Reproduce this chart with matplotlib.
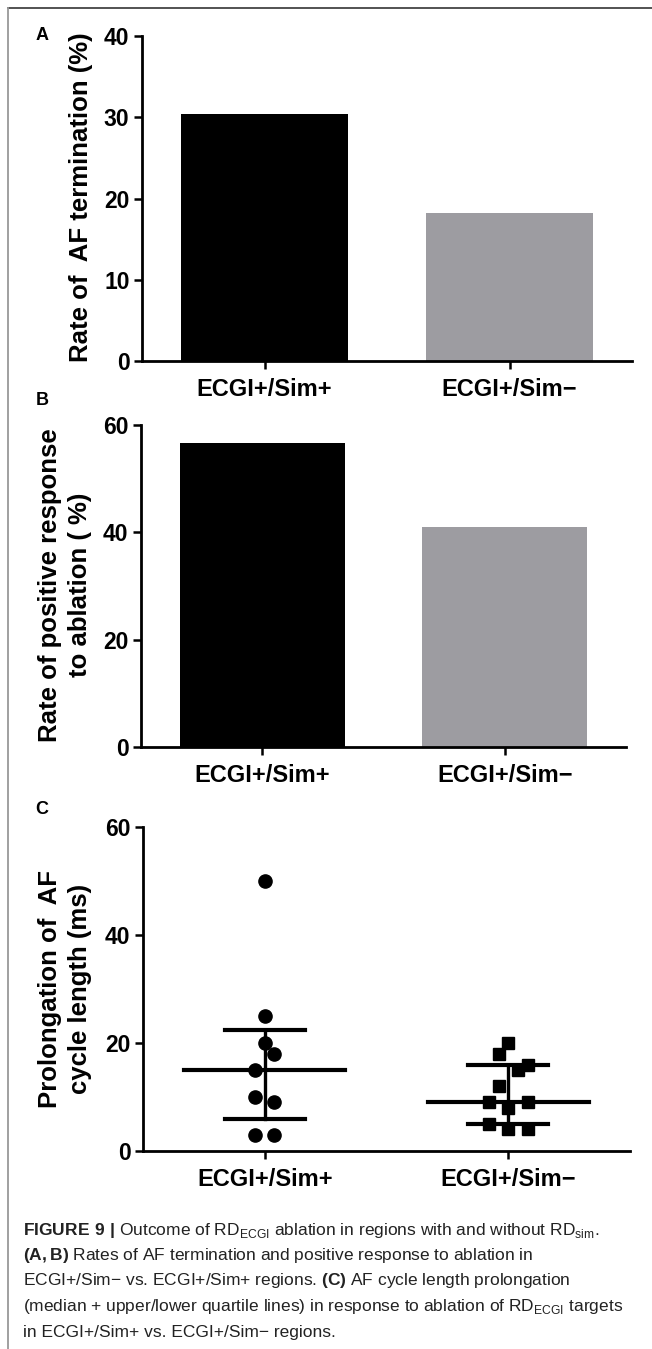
import numpy as np
import matplotlib
matplotlib.use('Agg')
import matplotlib.pyplot as plt
from matplotlib.lines import Line2D

plt.rcParams['font.family'] = ['Liberation Sans', 'DejaVu Sans']
plt.rcParams['mathtext.fontset'] = 'custom'
plt.rcParams['mathtext.rm'] = 'Liberation Sans'
plt.rcParams['mathtext.bf'] = 'Liberation Sans:bold'

# data
groups = ['ECGI+/Sim+', 'ECGI+/Sim\u2212']
af_termination = [30.4, 18.2]          # panel A, %
positive_response = [56.6, 41.0]       # panel B, %
prolong_sim_pos = [50, 25, 20, 18, 15, 10, 9, 3, 3]          # panel C, ms
prolong_sim_neg = [20, 18, 16, 15, 12, 9, 9, 8, 5, 4, 4]     # panel C, ms
# horizontal jitter slots of the scatter columns
slots_pos = [0, 0, 0, 1, -1, -1, 1, -1, 1]
slots_neg = [0, -1, 2, 1, -1, -2, 2, 0, -2, 0, 2]

bar_colors = ['black', '#9d9ca1']
W, H = 652, 1349

fig = plt.figure(figsize=(W / 100, H / 100), dpi=100)


def px_axes(x0, y0, x1, y1):
    return fig.add_axes([x0 / W, 1 - y1 / H, (x1 - x0) / W, (y1 - y0) / H])


def style_axes(ax, ymax, yticks):
    for s in ['top', 'right']:
        ax.spines[s].set_visible(False)
    for s in ['left', 'bottom']:
        ax.spines[s].set_linewidth(2.0)
    ax.set_xlim(-0.5, 1.5)
    ax.set_ylim(0, ymax)
    ax.set_yticks(yticks)
    ax.set_xticks(range(len(groups)))
    ax.set_xticklabels(groups)
    ax.tick_params(axis='both', direction='out', length=6, width=1.8,
                   labelsize=16.5, pad=3)
    ax.tick_params(axis='x', labelsize=17, pad=6)
    for lab in ax.get_xticklabels() + ax.get_yticklabels():
        lab.set_fontweight('bold')


# Panel A
axA = px_axes(142, 36, 632, 361)
axA.bar(range(len(groups)), af_termination, width=0.68, color=bar_colors)
style_axes(axA, 40, [0, 10, 20, 30, 40])
fig.text(81 / W, 1 - 197 / H, 'Rate of  AF termination (%)', rotation=90,
         ha='center', va='center', fontsize=18.5, fontweight='bold')

# Panel B
axB = px_axes(141, 425, 626, 747)
axB.bar(range(len(groups)), positive_response, width=0.68, color=bar_colors)
style_axes(axB, 60, [0, 20, 40, 60])
fig.text(65 / W, 1 - 585 / H, 'Rate of positive response\nto ablation ( %)',
         rotation=90, ha='center', va='center', fontsize=18.5,
         fontweight='bold', linespacing=1.27, multialignment='center')

# Panel C
axC = px_axes(143, 827, 630, 1151)
step = 0.04
for i, (vals, slots, mk) in enumerate([(prolong_sim_pos, slots_pos, 'o'),
                                        (prolong_sim_neg, slots_neg, 's')]):
    xs = i + np.array(slots) * step
    axC.plot(xs, vals, linestyle='none', marker=mk, color='black',
             markersize=9.5 if mk == 'o' else 9, zorder=3)
    q1, med, q3 = np.percentile(vals, [25, 50, 75], method='weibull')
    axC.plot([i - 0.33, i + 0.33], [med, med], color='black', lw=3, zorder=2)
    axC.plot([i - 0.165, i + 0.165], [q1, q1], color='black', lw=3, zorder=2)
    axC.plot([i - 0.165, i + 0.165], [q3, q3], color='black', lw=3, zorder=2)
    axC.plot([i, i], [q1, q3], color='black', lw=2.4, zorder=2)
style_axes(axC, 60, [0, 20, 40, 60])
fig.text(65 / W, 1 - 989 / H, 'Prolongation of  AF\ncycle length (ms)',
         rotation=90, ha='center', va='center', fontsize=18.5,
         fontweight='bold', linespacing=1.27, multialignment='center')

# panel letters
for letter, y in [('A', 36), ('B', 401), ('C', 810)]:
    fig.text(42 / W, 1 - y / H, letter, ha='center', va='center',
             fontsize=13, fontweight='bold')

# caption
caption = [
    r'$\mathbf{FIGURE\ 9\ |}$ Outcome of RD$_{\mathrm{ECGI}}$ ablation in regions with and without RD$_{\mathrm{sim}}$.',
    r'$\mathbf{(A,B)}$ Rates of AF termination and positive response to ablation in',
    'ECGI+/Sim\u2212 vs. ECGI+/Sim+ regions. $\\mathbf{(C)}$ AF cycle length prolongation',
    r'(median + upper/lower quartile lines) in response to ablation of RD$_{\mathrm{ECGI}}$ targets',
    'in ECGI+/Sim+ vs. ECGI+/Sim\u2212 regions.',
]
for k, line in enumerate(caption):
    fig.text(23 / W, 1 - (1230 + 25.5 * k) / H, line, ha='left', va='center',
             fontsize=12.5, color='#222222')

# frame lines
fig.add_artist(Line2D([8 / W, 1], [1 - 8 / H, 1 - 8 / H],
                      transform=fig.transFigure, color='#444444', lw=1.3))
fig.add_artist(Line2D([8 / W, 8 / W], [0, 1 - 8 / H],
                      transform=fig.transFigure, color='#999999', lw=1.3))

fig.savefig('out.png', dpi=100)
